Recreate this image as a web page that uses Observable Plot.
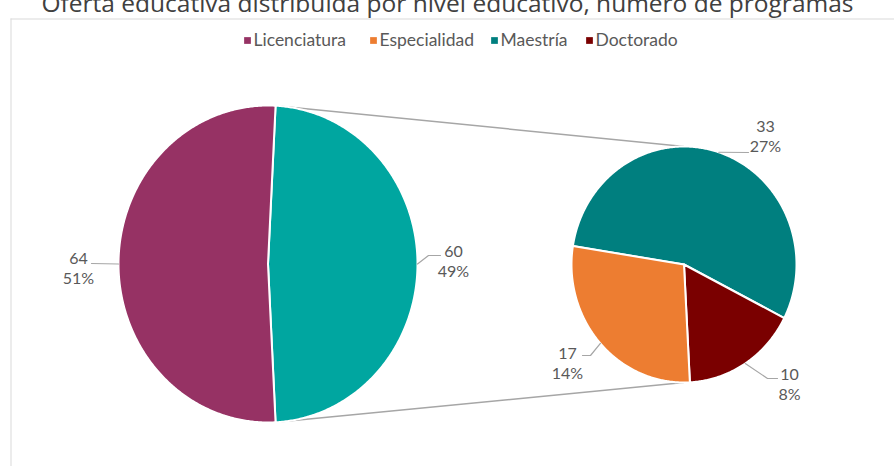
<!DOCTYPE html>
<html><head><meta charset="utf-8">
<script src="https://cdn.jsdelivr.net/npm/d3@7"></script>
<script src="https://cdn.jsdelivr.net/npm/@observablehq/plot@0.6"></script>
<style>body{margin:0;background:#fff;overflow:hidden;}</style>
</head><body><div id="chart"></div>
<script>
// ---- data ----
const title = "Oferta educativa distribuida por nivel educativo, número de programas";
const legendCategories = ["Licenciatura", "Especialidad", "Maestría", "Doctorado"];
const primaryCategories = ["Licenciatura", "Posgrado"];
const primaryValues = [64, 60];
const primaryPercents = ["51%", "49%"];
const secondaryCategories = ["Maestría", "Doctorado", "Especialidad"];
const secondaryValues = [33, 10, 17];
const secondaryPercents = ["27%", "8%", "14%"];
const colorDomain = ["Licenciatura", "Posgrado", "Maestría", "Especialidad", "Doctorado"];
const colorRange = ["#963264", "#00A6A0", "#007F7F", "#ED7D31", "#7A0000"];

// ---- layout ----
const W = 894, H = 466;
const pieA = {cx: 267.5, cy: 263.5, rx: 149.5, ry: 158.5};
const pieB = {cx: 683.5, cy: 264, rx: 112.5, ry: 118, start: -81};
const labelLayout = {
  "Licenciatura": {tx: 78, ty: 267, elbows: [[91, 263]]},
  "Posgrado": {tx: 453, ty: 260, elbows: [[428, 255], [440, 255]]},
  "Maestría": {tx: 765, ty: 135, elbows: [[748, 152]]},
  "Doctorado": {tx: 789, ty: 383, elbows: [[767, 378], [777, 378]]},
  "Especialidad": {tx: 567, ty: 362, elbows: [[590, 355], [582, 355]]}
};
const legendX = [247, 373, 494, 589];
const legendY = 40;

const rad = d => d * Math.PI / 180;
const pt = (p, a) => ({x: p.cx + p.rx * Math.sin(rad(a)), y: p.cy - p.ry * Math.cos(rad(a))});

function slices(pie, cats, vals, a0) {
  const tot = d3.sum(vals);
  let a = a0;
  return cats.map((c, i) => {
    const span = 360 * vals[i] / tot;
    const s = {key: c, a0: a, a1: a + span, mid: a + span / 2, pie};
    a += span;
    return s;
  });
}
const posSpan = 360 * primaryValues[1] / d3.sum(primaryValues);
const posStart = 90 - posSpan / 2;
const sA = slices(pieA, ["Posgrado", "Licenciatura"], [primaryValues[1], primaryValues[0]], posStart);
const sB = slices(pieB, secondaryCategories, secondaryValues, pieB.start);
const allSlices = [...sA, ...sB];

const polyPoints = [];
for (const s of allSlices) {
  polyPoints.push({key: s.key, x: s.pie.cx, y: s.pie.cy});
  const n = Math.ceil((s.a1 - s.a0) / 0.5);
  for (let i = 0; i <= n; i++) {
    const p = pt(s.pie, s.a0 + (s.a1 - s.a0) * i / n);
    polyPoints.push({key: s.key, x: p.x, y: p.y});
  }
}

// labels
const valueOf = {}, pctOf = {};
primaryCategories.forEach((c, i) => { valueOf[c] = primaryValues[i]; pctOf[c] = primaryPercents[i]; });
secondaryCategories.forEach((c, i) => { valueOf[c] = secondaryValues[i]; pctOf[c] = secondaryPercents[i]; });
const labels = allSlices.map(s => ({key: s.key, text: `${valueOf[s.key]}\n${pctOf[s.key]}`, x: labelLayout[s.key].tx, y: labelLayout[s.key].ty}));
const leaderPts = [];
for (const s of allSlices) {
  const e = pt(s.pie, s.mid);
  leaderPts.push({key: s.key, x: e.x, y: e.y});
  for (const [x, y] of labelLayout[s.key].elbows) leaderPts.push({key: s.key, x, y});
}

// connectors
const aTop = pt(pieA, posStart), aBot = pt(pieA, posStart + posSpan);
const bTop = pt(pieB, 0), bBot = pt(pieB, 180);
const connectors = [
  {x1: aTop.x, y1: aTop.y, x2: bTop.x, y2: bTop.y},
  {x1: aBot.x, y1: aBot.y, x2: bBot.x, y2: bBot.y}
];

const legend = legendCategories.map((c, i) => ({key: c, x: legendX[i], y: legendY}));

const chart = Plot.plot({
  width: W, height: H, margin: 0,
  x: {domain: [0, W], range: [0, W], axis: null},
  y: {domain: [0, H], range: [0, H], axis: null},
  color: {domain: colorDomain, range: colorRange},
  style: {fontFamily: "Lato, sans-serif", background: "white", overflow: "visible"},
  marks: [
    Plot.ruleX([10.5], {y1: 18.5, y2: H, stroke: "#d9d9d9", strokeWidth: 1}),
    Plot.ruleY([18.5], {x1: 10.5, x2: W, stroke: "#d9d9d9", strokeWidth: 1}),
    Plot.text([title], {x: W / 2, y: 4, text: d => d, fontSize: 24.5, fill: "#404040", fontFamily: "Open Sans", textAnchor: "middle"}),
    Plot.dot(legend, {x: "x", y: "y", fill: "key", symbol: "square", r: 3.8}),
    Plot.text(legend, {x: d => d.x + 6, y: "y", text: "key", fill: "#595959", fontSize: 17.5, textAnchor: "start"}),
    Plot.link(connectors, {x1: "x1", y1: "y1", x2: "x2", y2: "y2", stroke: "#a6a6a6", strokeWidth: 1.5}),
    Plot.line(polyPoints, {x: "x", y: "y", z: "key", fill: "key", stroke: "white", strokeWidth: 2, curve: "linear-closed"}),
    Plot.line(leaderPts, {x: "x", y: "y", z: "key", stroke: "#a6a6a6", strokeWidth: 1.2}),
    Plot.text(labels, {x: "x", y: "y", text: "text", fill: "#595959", fontSize: 16, lineHeight: 1.25, textAnchor: "middle"})
  ]
});
document.getElementById("chart").appendChild(chart);
</script>
</body></html>
